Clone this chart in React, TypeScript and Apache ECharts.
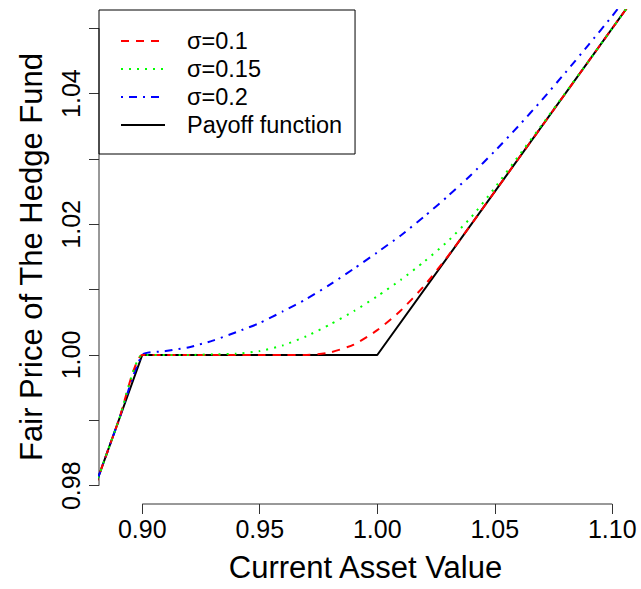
import React, { useEffect, useRef } from "react";
import * as echarts from "echarts";

// x grid of the fair-price curves
const xValues = [0.88, 0.89, 0.9, 0.91, 0.92, 0.93, 0.94, 0.95, 0.96, 0.97, 0.98, 0.99, 1.0, 1.01, 1.02, 1.03, 1.04, 1.05, 1.06, 1.07, 1.08, 1.09, 1.1, 1.11, 1.12];
const sigma01 = [0.98, 0.99, 1.0, 1.0, 1.0, 1.0, 1.0, 1.0, 1.0, 1.0, 1.0004, 1.0016, 1.0038, 1.0068, 1.0106, 1.0151, 1.02, 1.025, 1.03, 1.035, 1.04, 1.045, 1.05, 1.055, 1.06];
const sigma015 = [0.98, 0.99, 1.0, 1.0, 1.0, 1.0001, 1.0002, 1.0006, 1.0015, 1.0029, 1.0047, 1.0067, 1.009, 1.0115, 1.0143, 1.0174, 1.0211, 1.0256, 1.0304, 1.0352, 1.0401, 1.045, 1.05, 1.055, 1.06];
const sigma02 = [0.98, 0.99, 1.0, 1.0006, 1.0012, 1.0022, 1.0035, 1.0049, 1.0067, 1.0086, 1.0108, 1.0132, 1.0157, 1.0183, 1.0212, 1.0243, 1.0276, 1.0312, 1.035, 1.039, 1.0432, 1.0475, 1.0519, 1.0565, 1.061];
// payoff function kink points
const payoffX = [0.88, 0.9, 1.0, 1.12];
const payoffY = [0.98, 1.0, 1.0, 1.06];

const xTicks = [0.9, 0.95, 1.0, 1.05, 1.1];
const yTicks = [0.98, 0.99, 1.0, 1.01, 1.02, 1.03, 1.04, 1.05];
const yTickLabels = [0.98, 1.0, 1.02, 1.04];
const xRange = [0.8816, 1.1084];
const yRange = [0.9772, 1.0528];

const FONT = "'Liberation Sans', Arial, Helvetica, sans-serif";

export default function App() {
  const ref = useRef<HTMLDivElement>(null);
  useEffect(() => {
    document.body.style.margin = "0";
    if (!ref.current) return;
    const chart = echarts.init(ref.current, undefined, { renderer: "svg" });
    const zip = (xs: number[], ys: number[]) => xs.map((x, i) => [x, ys[i]]);
    const axisColor = "#333";
    chart.setOption({
      animation: false,
      backgroundColor: "#fff",
      textStyle: { fontFamily: FONT },
      grid: { left: 99, right: 9, top: 10, bottom: 85, containLabel: false },
      legend: {
        orient: "vertical",
        left: 99,
        top: 10,
        data: ["σ=0.1", "σ=0.15", "σ=0.2", "Payoff function"],
        itemStyle: { opacity: 0, color: "transparent", borderWidth: 0 },
        borderColor: "#000",
        borderWidth: 1,
        padding: [17, 13, 15, 21],
        itemGap: 0,
        itemWidth: 44,
        itemHeight: 14,
        textStyle: { fontSize: 23.5, fontFamily: FONT, color: "#000", lineHeight: 28, padding: [0, 0, 0, 17] },
      },
      xAxis: {
        type: "value",
        min: xRange[0],
        max: xRange[1],
        name: "Current Asset Value",
        nameLocation: "middle",
        nameGap: 48,
        nameTextStyle: { fontSize: 31, fontFamily: FONT, color: "#000" },
        axisLine: { show: false },
        splitLine: { show: false },
        axisTick: { show: true, length: 10, customValues: xTicks, lineStyle: { color: axisColor, width: 1 } },
        axisLabel: {
          customValues: xTicks,
          fontSize: 25,
          fontFamily: FONT,
          color: "#000",
          margin: 12,
          formatter: (v: number) => v.toFixed(2),
        },
      },
      yAxis: {
        type: "value",
        min: yRange[0],
        max: yRange[1],
        name: "Fair Price of The Hedge Fund",
        nameLocation: "middle",
        nameRotate: 90,
        nameGap: 52,
        nameTextStyle: { fontSize: 31, fontFamily: FONT, color: "#000" },
        axisLine: { show: false },
        splitLine: { show: false },
        axisTick: { show: true, length: 10, customValues: yTicks, lineStyle: { color: axisColor, width: 1 } },
        axisLabel: {
          customValues: yTickLabels,
          rotate: 90,
          fontSize: 25,
          fontFamily: FONT,
          color: "#000",
          margin: 16,
          formatter: (v: number) => v.toFixed(2),
        },
      },
      series: [
        {
          name: "x-axis-line",
          type: "line",
          data: [[xTicks[0], yRange[0]], [xTicks[xTicks.length - 1], yRange[0]]],
          symbol: "none",
          clip: false,
          silent: true,
          lineStyle: { color: axisColor, width: 1 },
          z: 1,
        },
        {
          name: "y-axis-line",
          type: "line",
          data: [[xRange[0], yTicks[0]], [xRange[0], yTicks[yTicks.length - 1]]],
          symbol: "none",
          clip: false,
          silent: true,
          lineStyle: { color: axisColor, width: 1 },
          z: 1,
        },
        {
          name: "Payoff function",
          type: "line",
          data: zip(payoffX, payoffY),
          symbol: "none",
          lineStyle: { color: "#000", width: 2, type: "solid" },
          itemStyle: { color: "#000" },
          z: 2,
        },
        {
          name: "σ=0.2",
          type: "line",
          data: zip(xValues, sigma02),
          symbol: "none",
          smooth: 0.2,
          lineStyle: { color: "#0000FF", width: 2, type: [2, 6, 8, 6] },
          itemStyle: { color: "#0000FF" },
          z: 3,
        },
        {
          name: "σ=0.1",
          type: "line",
          data: zip(xValues, sigma01),
          symbol: "none",
          smooth: 0.2,
          lineStyle: { color: "#FF0000", width: 2, type: [8, 7] },
          itemStyle: { color: "#FF0000" },
          z: 4,
        },
        {
          name: "σ=0.15",
          type: "line",
          data: zip(xValues, sigma015),
          symbol: "none",
          smooth: 0.2,
          lineStyle: { color: "#00FF00", width: 2, type: [2, 6] },
          itemStyle: { color: "#00FF00" },
          z: 5,
        },
      ],
    });
    return () => chart.dispose();
  }, []);
  return <div ref={ref} style={{ width: 641, height: 589 }} />;
}
